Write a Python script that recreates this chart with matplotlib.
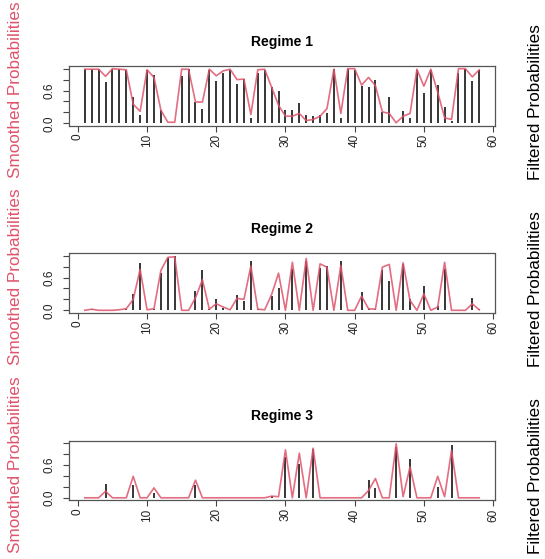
import numpy as np
import matplotlib
matplotlib.use("Agg")
import matplotlib.pyplot as plt

plt.rcParams["font.family"] = ["Liberation Sans", "DejaVu Sans"]

t = np.arange(1, 59)

# filtered (black spikes) and smoothed (pink line) probabilities per regime
filt1 = [0.99, 0.99, 0.99, 0.75, 0.99, 0.99, 0.98, 0.49, 0.15, 0.97,
         0.89, 0.24, 0.01, 0.00, 0.87, 0.99, 0.39, 0.27, 0.98, 0.78,
         0.93, 0.98, 0.72, 0.81, 0.10, 0.93, 0.98, 0.66, 0.60, 0.25,
         0.25, 0.38, 0.15, 0.13, 0.15, 0.18, 0.99, 0.10, 0.99, 0.98,
         0.68, 0.66, 0.80, 0.21, 0.48, 0.00, 0.22, 0.10, 0.98, 0.56,
         0.98, 0.70, 0.30, 0.04, 0.93, 0.99, 0.78, 0.98]
smooth1 = [0.99, 0.99, 0.99, 0.86, 1.00, 0.99, 0.98, 0.35, 0.22, 0.98,
           0.84, 0.24, 0.02, 0.02, 0.99, 0.99, 0.39, 0.39, 0.99, 0.87,
           0.96, 0.99, 0.80, 0.81, 0.16, 0.98, 0.99, 0.66, 0.33, 0.13,
           0.13, 0.18, 0.05, 0.07, 0.13, 0.27, 0.99, 0.18, 1.00, 1.00,
           0.70, 0.84, 0.69, 0.21, 0.18, 0.01, 0.13, 0.18, 0.99, 0.68,
           0.99, 0.57, 0.10, 0.07, 1.00, 1.00, 0.85, 0.98]

filt2 = [0.00, 0.02, 0.00, 0.00, 0.00, 0.00, 0.03, 0.29, 0.87, 0.00,
         0.02, 0.68, 0.96, 0.99, 0.00, 0.00, 0.35, 0.73, 0.02, 0.20,
         0.05, 0.01, 0.28, 0.17, 0.91, 0.02, 0.01, 0.27, 0.40, 0.00,
         0.75, 0.00, 0.90, 0.00, 0.78, 0.82, 0.00, 0.90, 0.00, 0.00,
         0.34, 0.02, 0.02, 0.73, 0.53, 0.00, 0.84, 0.20, 0.00, 0.44,
         0.00, 0.08, 0.76, 0.00, 0.00, 0.00, 0.23, 0.02]
smooth2 = [0.00, 0.02, 0.00, 0.00, 0.00, 0.01, 0.03, 0.20, 0.75, 0.01,
           0.03, 0.73, 0.97, 0.98, 0.00, 0.00, 0.23, 0.56, 0.02, 0.12,
           0.06, 0.01, 0.22, 0.20, 0.81, 0.02, 0.01, 0.29, 0.68, 0.00,
           0.88, 0.00, 0.95, 0.00, 0.85, 0.79, 0.00, 0.82, 0.00, 0.00,
           0.26, 0.03, 0.02, 0.79, 0.84, 0.00, 0.87, 0.18, 0.00, 0.30,
           0.00, 0.06, 0.88, 0.00, 0.00, 0.00, 0.12, 0.01]

filt3 = [0.00, 0.00, 0.00, 0.25, 0.00, 0.00, 0.00, 0.24, 0.00, 0.00,
         0.08, 0.00, 0.00, 0.00, 0.00, 0.00, 0.23, 0.00, 0.00, 0.00,
         0.00, 0.00, 0.00, 0.00, 0.00, 0.00, 0.00, 0.03, 0.00, 0.74,
         0.00, 0.62, 0.00, 0.89, 0.00, 0.00, 0.00, 0.00, 0.00, 0.00,
         0.00, 0.32, 0.17, 0.00, 0.00, 0.92, 0.00, 0.71, 0.00, 0.00,
         0.00, 0.20, 0.00, 0.96, 0.00, 0.00, 0.00, 0.00]
smooth3 = [0.00, 0.00, 0.00, 0.12, 0.00, 0.00, 0.00, 0.39, 0.00, 0.00,
           0.18, 0.00, 0.00, 0.00, 0.00, 0.00, 0.32, 0.00, 0.00, 0.00,
           0.00, 0.00, 0.00, 0.00, 0.00, 0.00, 0.00, 0.03, 0.02, 0.87,
           0.00, 0.81, 0.00, 0.90, 0.00, 0.00, 0.00, 0.00, 0.00, 0.00,
           0.00, 0.13, 0.35, 0.00, 0.00, 0.98, 0.02, 0.56, 0.00, 0.00,
           0.00, 0.39, 0.02, 0.86, 0.00, 0.00, 0.00, 0.00]

titles = ["Regime 1", "Regime 2", "Regime 3"]
filtered = [filt1, filt2, filt3]
smoothed = [smooth1, smooth2, smooth3]

pink = "#DF536B"
W, H = 545, 559
fig = plt.figure(figsize=(W / 100, H / 100), dpi=100)

# box tops / bottoms in pixels (from the top)
box_top = [66.5, 253.5, 440.5]
box_bot = [125.5, 312.5, 500.0]
left, right = 69.0, 495.0

for i in range(3):
    ax = fig.add_axes([left / W, 1 - box_bot[i] / H,
                       (right - left) / W, (box_bot[i] - box_top[i]) / H])
    ax.vlines(t, 0, filtered[i], color="black", lw=1.1)
    ax.plot(t, smoothed[i], color=pink, lw=1.2, alpha=0.85)
    ax.set_xlim(-1.28, 60.28)
    ax.set_ylim(-0.04, 1.04)
    ax.set_xticks(range(0, 61, 10))
    ax.set_xticklabels([str(v) for v in range(0, 61, 10)], rotation=90,
                       fontsize=8.5, color="#222222")
    ax.set_yticks([0, 0.2, 0.4, 0.6, 0.8, 1.0])
    ax.set_yticklabels(["0.0", "", "", "0.6", "", ""], rotation=90,
                       va="center", fontsize=8.5, color="#222222")
    ax.tick_params(axis="x", direction="out", length=4, width=0.8,
                   pad=2, color="#444444")
    ax.tick_params(axis="y", direction="out", length=4, width=0.8,
                   pad=6, color="#444444")
    for s in ax.spines.values():
        s.set_color("#555555")
        s.set_linewidth(0.9)
    ax.set_title(titles[i], fontsize=10, fontweight="bold", pad=15)

    yc = (box_top[i] + box_bot[i]) / 2
    fig.text(16 / W, 1 - (yc - 6) / H, "Smoothed Probabilities", color=pink,
             rotation=90, ha="center", va="center", fontsize=12.3)
    fig.text(536 / W, 1 - (yc + 6) / H, "Filtered Probabilities", color="black",
             rotation=90, ha="center", va="center", fontsize=12.3)

fig.savefig("out.png", dpi=100)
